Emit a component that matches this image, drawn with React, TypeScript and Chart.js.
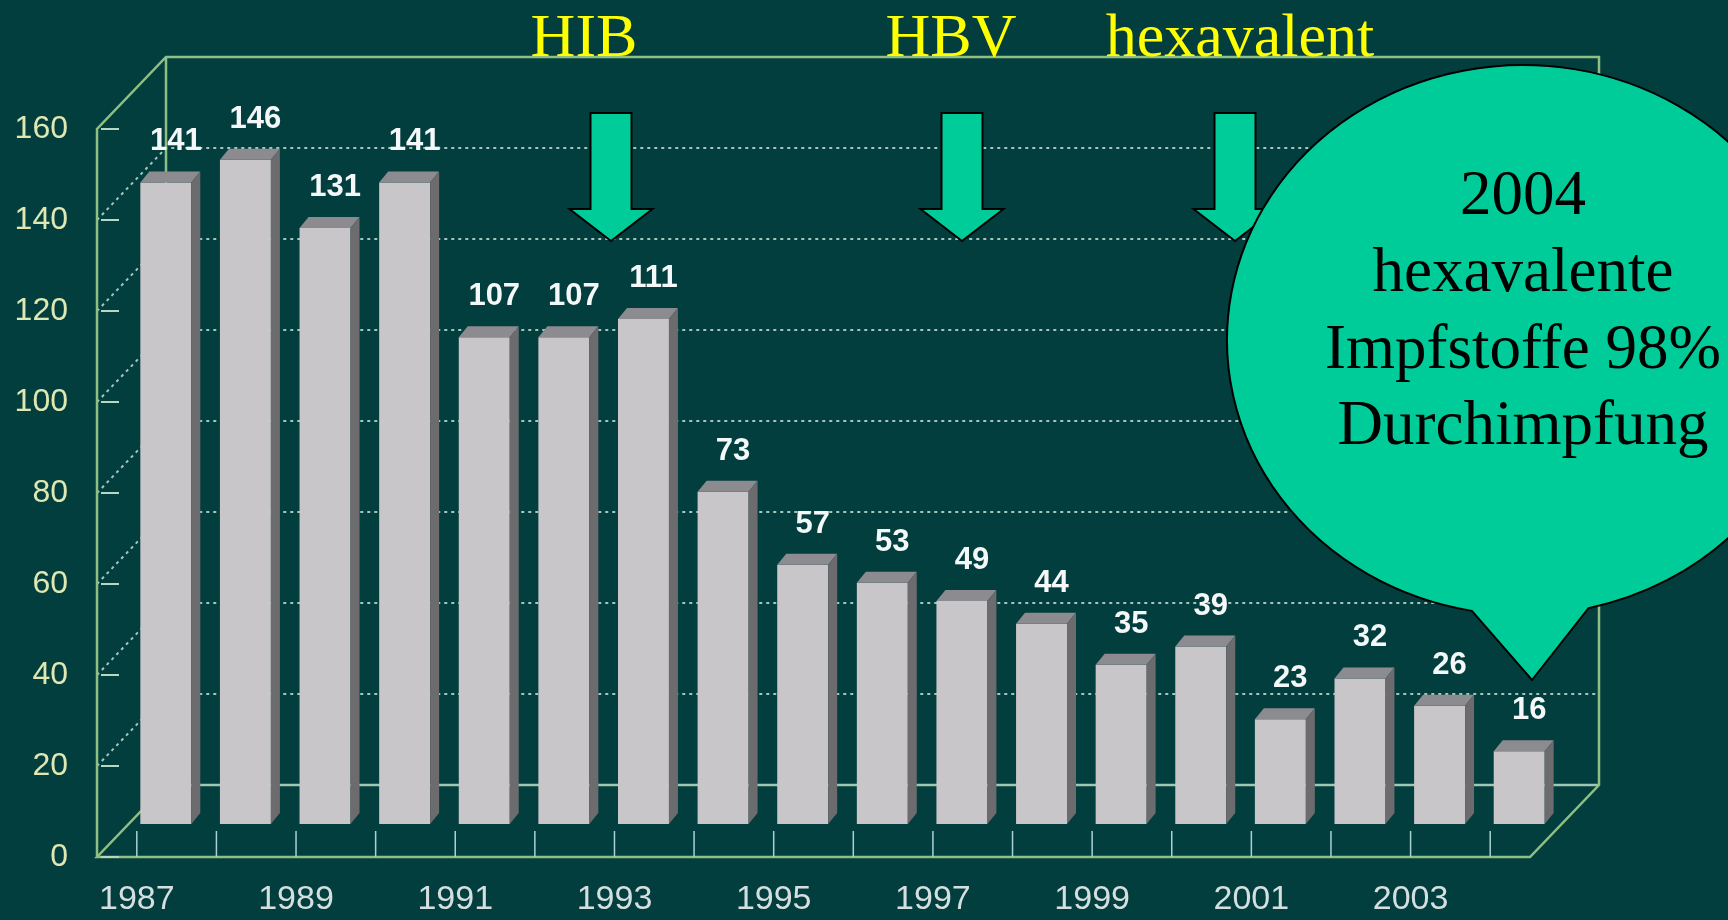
import React, { useEffect, useRef } from "react";
import { Chart, registerables } from "chart.js";

Chart.register(...registerables);

// ---- data ----
const years = ["1987", "1988", "1989", "1990", "1991", "1992", "1993", "1994", "1995", "1996", "1997", "1998", "1999", "2000", "2001", "2002", "2003", "2004"];
const cases = [141, 146, 131, 141, 107, 107, 111, 73, 57, 53, 49, 44, 35, 39, 23, 32, 26, 16];
const yTicks = [0, 20, 40, 60, 80, 100, 120, 140, 160];
const vaccineLabels = ["HIB", "HBV", "hexavalent"];
const bubbleLines = ["2004", "hexavalente", "Impfstoffe 98%", "Durchimpfung"];

// ---- styling / geometry ----
const BG = "#033e3e";
const FRAME = "#8fbf82";
const GRID = "rgba(195,222,210,0.85)";
const BACK_FLOOR = "#9cc8b4";
const BAR_FRONT = "#c9c6ca";
const BAR_TOP = "#8c8b8f";
const BAR_SIDE = "#6c6c6e";
const DEPTH = { dx: 69, dy: -72 };
const BAR_SHIFT = { dx: 29, dy: -33 };
const FACE = { dx: 9, dy: -11 };
const ARROW_X = [611, 962, 1235];
const LABEL_X = [584, 951, 1240];
const GREEN = "#00cc99";

function line(ctx: CanvasRenderingContext2D, pts: number[][]) {
  ctx.beginPath();
  ctx.moveTo(pts[0][0], pts[0][1]);
  for (let i = 1; i < pts.length; i++) ctx.lineTo(pts[i][0], pts[i][1]);
  ctx.stroke();
}

const threeD = {
  id: "threeD",
  beforeDatasetsDraw(chart: any) {
    const ctx: CanvasRenderingContext2D = chart.ctx;
    const { left, right, top, bottom } = chart.chartArea;
    const ys = chart.scales.y;
    const xs = chart.scales.x;
    const D = DEPTH;
    ctx.save();
    ctx.lineCap = "butt";
    // dashed gridlines: left wall diagonal + back wall horizontal
    ctx.strokeStyle = GRID;
    ctx.lineWidth = 2;
    ctx.setLineDash([3, 4]);
    yTicks.forEach((v) => {
      if (v === 0 || v === 160) return;
      const y = ys.getPixelForValue(v);
      line(ctx, [[left, y], [left + D.dx, y + D.dy], [right + D.dx, y + D.dy]]);
    });
    ctx.setLineDash([]);
    // back floor line
    ctx.strokeStyle = BACK_FLOOR;
    ctx.lineWidth = 2.5;
    line(ctx, [[left + D.dx, bottom + D.dy], [right + D.dx, bottom + D.dy]]);
    // frame
    ctx.strokeStyle = FRAME;
    ctx.lineWidth = 2.5;
    line(ctx, [[left, bottom], [left, top], [left + D.dx, top + D.dy], [right + D.dx, top + D.dy], [right + D.dx, bottom + D.dy], [right, bottom], [left, bottom], [left + D.dx, bottom + D.dy], [left + D.dx, top + D.dy]]);
    // front axis ticks
    ctx.strokeStyle = "#b9d6c2";
    ctx.lineWidth = 2;
    yTicks.forEach((v) => {
      const y = ys.getPixelForValue(v);
      line(ctx, [[left + 4, y], [left + 22, y]]);
    });
    // floor ticks
    ctx.strokeStyle = "#a9d2d0";
    ctx.lineWidth = 1.5;
    years.forEach((_, i) => {
      const x = xs.getPixelForValue(i);
      line(ctx, [[x, bottom], [x, bottom - 26]]);
    });
    ctx.restore();
    ctx.save();
    ctx.translate(BAR_SHIFT.dx, BAR_SHIFT.dy);
  },
  afterDatasetsDraw(chart: any) {
    const ctx: CanvasRenderingContext2D = chart.ctx;
    const meta = chart.getDatasetMeta(0);
    meta.data.forEach((bar: any, i: number) => {
      const { x, y, base, width } = bar.getProps(["x", "y", "base", "width"], true);
      const l = x - width / 2;
      const r = x + width / 2;
      ctx.fillStyle = BAR_TOP;
      ctx.beginPath();
      ctx.moveTo(l, y);
      ctx.lineTo(l + FACE.dx, y + FACE.dy);
      ctx.lineTo(r + FACE.dx, y + FACE.dy);
      ctx.lineTo(r, y);
      ctx.closePath();
      ctx.fill();
      ctx.fillStyle = BAR_SIDE;
      ctx.beginPath();
      ctx.moveTo(r, y);
      ctx.lineTo(r + FACE.dx, y + FACE.dy);
      ctx.lineTo(r + FACE.dx, base + FACE.dy);
      ctx.lineTo(r, base);
      ctx.closePath();
      ctx.fill();
      ctx.fillStyle = "#f4f8f8";
      ctx.font = "bold 31px 'Liberation Sans', Arial, sans-serif";
      ctx.textAlign = "center";
      ctx.textBaseline = "alphabetic";
      ctx.fillText(String(cases[i]), x + 10, y - 32);
    });
    ctx.restore();
  },
  afterDraw(chart: any) {
    const ctx: CanvasRenderingContext2D = chart.ctx;
    ctx.save();
    // vaccine labels
    ctx.fillStyle = "#ffff00";
    ctx.font = "62px 'Liberation Serif', 'Times New Roman', serif";
    ctx.textAlign = "center";
    ctx.textBaseline = "alphabetic";
    vaccineLabels.forEach((t, i) => ctx.fillText(t, LABEL_X[i], 56));
    // arrows
    ARROW_X.forEach((cx) => {
      const top = 113, sh = 209, tip = 241, sw = 20.5, hw = 41.5;
      ctx.beginPath();
      ctx.moveTo(cx - sw, top);
      ctx.lineTo(cx + sw, top);
      ctx.lineTo(cx + sw, sh);
      ctx.lineTo(cx + hw, sh);
      ctx.lineTo(cx, tip);
      ctx.lineTo(cx - hw, sh);
      ctx.lineTo(cx - sw, sh);
      ctx.closePath();
      ctx.fillStyle = GREEN;
      ctx.fill();
      ctx.strokeStyle = "#000";
      ctx.lineWidth = 2;
      ctx.lineJoin = "miter";
      ctx.stroke();
    });
    // speech bubble
    const cx = 1523, cy = 340, rx = 296, ry = 275;
    const a1 = Math.atan2((605 - cy) / ry, (1473 - cx) / rx);
    const a2 = Math.atan2((602 - cy) / ry, (1587 - cx) / rx);
    ctx.beginPath();
    ctx.ellipse(cx, cy, rx, ry, 0, a1, a2, false);
    ctx.lineTo(1532, 680);
    ctx.closePath();
    ctx.fillStyle = GREEN;
    ctx.fill();
    ctx.strokeStyle = "#000";
    ctx.lineWidth = 2;
    ctx.stroke();
    ctx.fillStyle = "#000";
    ctx.font = "63px 'Liberation Serif', 'Times New Roman', serif";
    const bases = [214, 291, 368, 444];
    bubbleLines.forEach((t, i) => ctx.fillText(t, cx, bases[i]));
    ctx.restore();
  },
};

export default function App() {
  const ref = useRef<HTMLCanvasElement | null>(null);
  useEffect(() => {
    if (!ref.current) return;
    Chart.defaults.font.family = "'Liberation Sans', Arial, sans-serif";
    const chart = new Chart(ref.current, {
      type: "bar",
      data: {
        labels: years,
        datasets: [
          {
            data: cases,
            backgroundColor: BAR_FRONT,
            borderWidth: 0,
            barPercentage: 0.8,
            categoryPercentage: 0.8,
            clip: false as any,
          },
        ],
      },
      options: {
        animation: false,
        responsive: false,
        maintainAspectRatio: false,
        layout: { padding: { left: 0, top: 129, right: 198, bottom: 0 } },
        plugins: { legend: { display: false }, tooltip: { enabled: false } },
        scales: {
          x: {
            grid: { display: false, drawTicks: false },
            border: { display: false },
            ticks: {
              autoSkip: false,
              maxRotation: 0,
              color: "#d5dfe0",
              font: { size: 34 },
              padding: 22,
              callback: (_v: any, i: number) => (i % 2 === 0 ? years[i] : ""),
            },
            afterFit: (s: any) => {
              s.height = 63;
            },
          },
          y: {
            min: 0,
            max: 160,
            grid: { display: false, drawTicks: false },
            border: { display: false },
            ticks: { stepSize: 20, color: "#dfe7b3", font: { size: 32 }, padding: 29 },
            afterFit: (s: any) => {
              s.width = 97;
            },
          },
        },
      },
      plugins: [threeD],
    });
    return () => chart.destroy();
  }, []);
  return (
    <div style={{ position: "absolute", left: 0, top: 0, width: 1728, height: 920, background: BG, overflow: "hidden" }}>
      <canvas ref={ref} width={1728} height={920} style={{ width: 1728, height: 920, display: "block" }} />
    </div>
  );
}
